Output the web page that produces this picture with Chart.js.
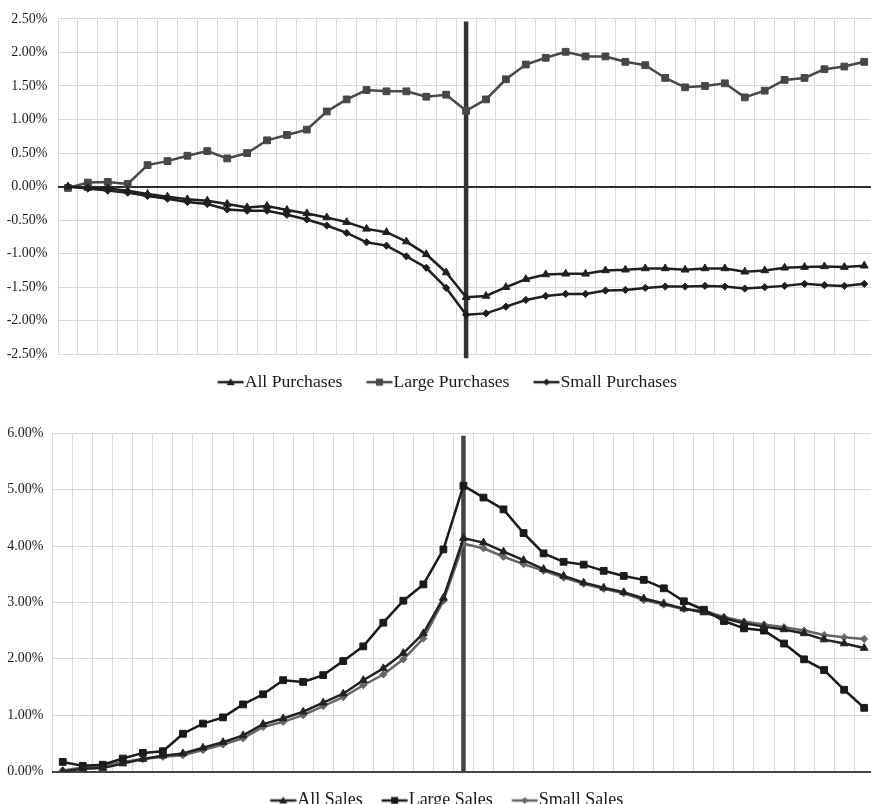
<!DOCTYPE html>
<html>
<head>
<meta charset="utf-8">
<script src="https://cdn.jsdelivr.net/npm/chart.js@4.4.1/dist/chart.umd.min.js"></script>
<style>
    html, body { margin: 0; padding: 0; background: #fff; overflow: hidden; }
    canvas { position: absolute; left: 0; display: block; }
    #purchases { top: 0; }
    #sales { top: 410px; }
</style>
</head>
<body>
<canvas id="purchases" width="880" height="401"></canvas>
<canvas id="sales" width="880" height="410"></canvas>
<script>
//? DATA (percent)
const periods = [-20, -19, -18, -17, -16, -15, -14, -13, -12, -11, -10, -9, -8, -7, -6, -5, -4, -3, -2, -1,
    0, 1, 2, 3, 4, 5, 6, 7, 8, 9, 10, 11, 12, 13, 14, 15, 16, 17, 18, 19, 20];
const eventPeriod = 0;

const allPurchases = [0.00, -0.02, -0.03, -0.06, -0.11, -0.15, -0.19, -0.21, -0.26, -0.31, -0.29, -0.35, -0.40, -0.46,
    -0.53, -0.63, -0.68, -0.82, -1.01, -1.28, -1.65, -1.63, -1.50, -1.38, -1.31, -1.30, -1.30, -1.25, -1.24, -1.22,
    -1.22, -1.24, -1.22, -1.22, -1.27, -1.25, -1.21, -1.20, -1.19, -1.20, -1.18];
const largePurchases = [-0.02, 0.06, 0.07, 0.04, 0.32, 0.38, 0.46, 0.53, 0.42, 0.50, 0.69, 0.77, 0.85, 1.12,
    1.30, 1.44, 1.42, 1.42, 1.34, 1.37, 1.13, 1.30, 1.60, 1.82, 1.92, 2.01, 1.94, 1.94, 1.86, 1.81,
    1.62, 1.48, 1.50, 1.54, 1.33, 1.43, 1.59, 1.62, 1.75, 1.79, 1.86];
const smallPurchases = [0.00, -0.03, -0.06, -0.09, -0.14, -0.18, -0.23, -0.26, -0.34, -0.36, -0.36, -0.42, -0.49, -0.58,
    -0.69, -0.83, -0.88, -1.04, -1.21, -1.51, -1.91, -1.89, -1.79, -1.69, -1.63, -1.60, -1.60, -1.55, -1.54, -1.51,
    -1.49, -1.49, -1.48, -1.49, -1.52, -1.50, -1.48, -1.45, -1.47, -1.48, -1.45];

const allSales = [0.00, 0.05, 0.06, 0.14, 0.22, 0.28, 0.32, 0.42, 0.52, 0.64, 0.84, 0.94, 1.06, 1.22,
    1.38, 1.62, 1.83, 2.10, 2.45, 3.08, 4.14, 4.06, 3.90, 3.75, 3.59, 3.47, 3.35, 3.26, 3.18, 3.07,
    2.98, 2.89, 2.82, 2.72, 2.63, 2.57, 2.52, 2.45, 2.34, 2.27, 2.19];
const largeSales = [0.17, 0.10, 0.12, 0.23, 0.33, 0.36, 0.67, 0.85, 0.96, 1.19, 1.37, 1.62, 1.59, 1.71,
    1.96, 2.22, 2.64, 3.03, 3.32, 3.94, 5.07, 4.86, 4.65, 4.23, 3.87, 3.72, 3.67, 3.56, 3.47, 3.40,
    3.25, 3.02, 2.87, 2.67, 2.54, 2.50, 2.27, 1.99, 1.80, 1.45, 1.13];
const smallSales = [0.02, 0.07, 0.10, 0.17, 0.22, 0.26, 0.29, 0.38, 0.48, 0.59, 0.79, 0.88, 1.00, 1.16,
    1.32, 1.53, 1.72, 1.99, 2.36, 3.03, 4.04, 3.96, 3.81, 3.68, 3.56, 3.44, 3.33, 3.24, 3.16, 3.04,
    2.96, 2.88, 2.85, 2.74, 2.66, 2.61, 2.56, 2.50, 2.42, 2.38, 2.35];

const purchaseTicks = [-2.5, -2.0, -1.5, -1.0, -0.5, 0, 0.5, 1.0, 1.5, 2.0, 2.5];
const salesTicks = [0, 1, 2, 3, 4, 5, 6];

//? STYLE
const GRID = '#d9d9d9';
const DARK = '#2e2e2e';
const SERIF = "'Liberation Serif', 'Times New Roman', serif";

//? the thick vertical line at the event period
const eventLine = {
    id: 'eventLine',
    beforeDatasetsDraw(chart, args, opts) {
        const x = chart.scales.x.getPixelForValue(periods.indexOf(eventPeriod));
        const { top, bottom } = chart.chartArea;
        const ctx = chart.ctx;
        ctx.save();
        ctx.strokeStyle = opts.color;
        ctx.lineWidth = opts.width;
        ctx.beginPath();
        ctx.moveTo(x, top + opts.top);
        ctx.lineTo(x, bottom + opts.bottom);
        ctx.stroke();
        ctx.restore();
    }
};

//? nudge the legend sideways (it centres on the whole canvas otherwise)
const legendShift = {
    id: 'legendShift',
    afterLayout(chart, args, opts) {
        chart.legend.left += opts.dx;
        chart.legend.right += opts.dx;
    }
};

// legend icon = short line with marker in the middle (like excel)
function legendIcon(shape, color, pw, gap) {
    const lineLen = 26;
    const rel0 = gap - pw / 2;
    const half = Math.ceil(Math.max(Math.abs(rel0), Math.abs(rel0 + lineLen)));
    const c = document.createElement('canvas');
    c.width = half * 2;
    c.height = 14;
    const g = c.getContext('2d');
    const x0 = half + rel0, cy = 7, cx = x0 + lineLen / 2;
    g.strokeStyle = color;
    g.fillStyle = color;
    g.lineWidth = 2.5;
    g.beginPath(); g.moveTo(x0, cy); g.lineTo(x0 + lineLen, cy); g.stroke();
    g.beginPath();
    if (shape === 'triangle') {
        g.moveTo(cx, cy - 4); g.lineTo(cx + 4, cy + 3); g.lineTo(cx - 4, cy + 3);
    } else if (shape === 'rect') {
        g.rect(cx - 3.5, cy - 3.5, 7, 7);
    } else {
        g.moveTo(cx, cy - 3.5); g.lineTo(cx + 3.5, cy); g.lineTo(cx, cy + 3.5); g.lineTo(cx - 3.5, cy);
    }
    g.closePath();
    g.fill();
    return c;
}

function series(label, data, color, shape, radius) {
    return {
        label, data,
        borderColor: color,
        backgroundColor: color,
        pointBackgroundColor: color,
        pointBorderColor: color,
        pointStyle: shape,
        pointRadius: radius,
        pointBorderWidth: 1,
        borderWidth: 2.5,
        tension: 0,
        fill: false
    };
}

function makeChart(canvasId, cfg) {
    const pw = cfg.gap + 27 - cfg.legendFont / 2;
    const iconStyles = cfg.datasets.map(d => legendIcon(d.pointStyle, d.borderColor, pw, cfg.gap));
    return new Chart(document.getElementById(canvasId), {
        type: 'line',
        data: { labels: periods, datasets: cfg.datasets },
        options: {
            responsive: false,
            animation: false,
            layout: { padding: cfg.padding },
            scales: {
                x: {
                    type: 'category',
                    offset: true,
                    grid: { offset: true, color: GRID, lineWidth: 1, drawTicks: false },
                    border: { color: cfg.xBorderColor, width: cfg.xBorderWidth },
                    ticks: { display: false }
                },
                y: {
                    min: cfg.ticks[0],
                    max: cfg.ticks[cfg.ticks.length - 1],
                    afterBuildTicks: (scale) => { scale.ticks = cfg.ticks.map(v => ({ value: v })); },
                    afterFit: (scale) => { scale.width = cfg.axisWidth; },
                    grid: {
                        color: (c) => c.tick && c.tick.value === 0 ? DARK : GRID,
                        lineWidth: (c) => c.tick && c.tick.value === 0 ? 2 : 1,
                        drawTicks: false
                    },
                    border: { display: false },
                    ticks: {
                        color: '#1a1a1a',
                        padding: cfg.tickPad,
                        font: { family: SERIF, size: cfg.tickFont },
                        callback: (v) => v.toFixed(2) + '%'
                    }
                }
            },
            plugins: {
                legend: {
                    position: 'bottom',
                    labels: {
                        color: '#1a1a1a',
                        font: { family: SERIF, size: cfg.legendFont },
                        usePointStyle: true,
                        pointStyleWidth: pw,
                        padding: cfg.legendPad,
                        generateLabels: (chart) => Chart.defaults.plugins.legend.labels.generateLabels(chart)
                            .map((item, i) => ({ ...item, pointStyle: iconStyles[i] }))
                    }
                },
                tooltip: { enabled: false },
                eventLine: cfg.eventLine,
                legendShift: { dx: cfg.legendDx }
            }
        },
        plugins: [eventLine, legendShift]
    });
}

makeChart('purchases', {
    datasets: [
        series('All Purchases', allPurchases, '#1f1f1f', 'triangle', 4.5),
        series('Large Purchases', largePurchases, '#474747', 'rect', 4.8),
        series('Small Purchases', smallPurchases, '#1f1f1f', 'rectRot', 3.6)
    ],
    ticks: purchaseTicks,
    padding: { left: 0, right: 3.6, top: 18, bottom: 0 },
    axisWidth: 58,
    tickPad: 10.5,
    tickFont: 14,
    legendFont: 17.7,
    legendPad: 19,
    gap: 5,
    legendDx: 6.6,
    xBorderColor: GRID,
    xBorderWidth: 1,
    eventLine: { color: '#333', width: 4.5, top: 2.5, bottom: 4 }
});

makeChart('sales', {
    datasets: [
        series('All Sales', allSales, '#222', 'triangle', 4.5),
        series('Large Sales', largeSales, '#1a1a1a', 'rect', 4.8),
        series('Small Sales', smallSales, '#666', 'rectRot', 3.6)
    ],
    ticks: salesTicks,
    padding: { left: 0, right: 4.8, top: 23.3, bottom: 0.5 },
    axisWidth: 52.7,
    tickPad: 9.4,
    tickFont: 14,
    legendFont: 18,
    legendPad: 20,
    gap: -1,
    legendDx: 9.6,
    xBorderColor: '#444',
    xBorderWidth: 2,
    eventLine: { color: '#444', width: 4.5, top: 2.5, bottom: 0 }
});
</script>
</body>
</html>
